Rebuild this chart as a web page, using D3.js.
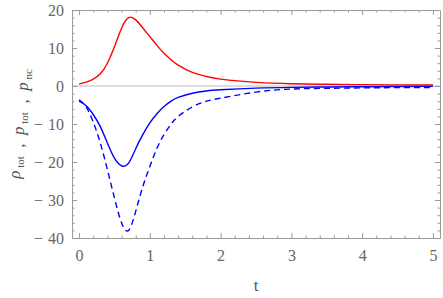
<!DOCTYPE html>
<html>
<head>
<meta charset="utf-8">
<script src="https://cdn.jsdelivr.net/npm/d3@7"></script>
<style>
  body { margin: 0; background: #fff; }
  .tick text { font-family: "Liberation Serif", "DejaVu Serif", serif; fill: #666; }
  .domain { stroke: #999; }
  .tick line { stroke: #999; }
</style>
</head>
<body>
<div id="chart"></div>
<script>
// Sample times and the three curves
const tValues = [0, 0.1, 0.2, 0.3, 0.4, 0.5, 0.6, 0.7, 0.8, 0.9, 1.0, 1.1, 1.2, 1.3, 1.4, 1.6, 1.8, 2.0, 2.5, 3.0, 3.5, 4.0, 4.5, 5.0];
const rhoTot = [0.5, 1.0, 1.8, 3.2, 6.0, 10.3, 15.2, 18.0, 17.4, 15.3, 13.0, 10.7, 8.6, 6.9, 5.5, 3.6, 2.5, 1.8, 0.95, 0.6, 0.45, 0.35, 0.3, 0.26];
const pTot = [-4.0, -5.2, -7.5, -10.7, -15.0, -19.0, -21.0, -20.3, -16.5, -12.8, -9.7, -7.3, -5.4, -4.0, -3.0, -1.9, -1.3, -1.0, -0.55, -0.35, -0.25, -0.18, -0.14, -0.1];
const pNc = [-3.6, -5.5, -9.5, -15.0, -22.0, -29.5, -36.0, -38.0, -33.0, -26.5, -21.2, -16.4, -12.8, -10.0, -8.0, -5.5, -4.0, -3.2, -1.6, -0.8, -0.6, -0.5, -0.42, -0.38];

const xMajor = [0, 1, 2, 3, 4, 5];
const yMajor = [-40, -30, -20, -10, 0, 10, 20];

const width = 443, height = 298;
const svg = d3.select('#chart').append('svg')
    .attr('width', width)
    .attr('height', height);

const x = d3.scaleLinear().domain([-0.1, 5.1]).range([72, 440]);
const y = d3.scaleLinear().domain([-40, 20]).range([238, 10]);

const xMinor = d3.range(0, 5.01, 0.2).filter(v => Math.abs(v - Math.round(v)) > 1e-6);
const yMinor = d3.range(-40, 20.01, 2).filter(v => v % 10 !== 0);

// zero line
svg.append('line')
    .attr('x1', x.range()[0]).attr('x2', x.range()[1])
    .attr('y1', y(0)).attr('y2', y(0))
    .attr('stroke', '#bbb').attr('stroke-width', 1);

// frame axes with inward ticks
function addAxis(axisFn, scale, pos, major, minor, labels, side) {
    const maj = svg.append('g')
        .attr('transform', pos)
        .call(axisFn(scale).tickValues(major).tickSizeInner(-5).tickSizeOuter(0)
            .tickPadding(side === 'left' ? 8 : 12)
            .tickFormat(d => Math.abs(d)));
    if (!labels) {
        maj.selectAll('text').remove();
    } else {
        maj.selectAll('text').style('font-size', '16px')
            .each(function(d) {
                if (d < 0) {
                    const t = d3.select(this);
                    t.text('');
                    t.append('tspan').text('\u2212');
                    t.append('tspan').attr('dx', 5).text(Math.abs(d));
                }
            });
    }
    const mn = svg.append('g')
        .attr('transform', pos)
        .call(axisFn(scale).tickValues(minor).tickSizeInner(-2.5).tickSizeOuter(0));
    mn.select('.domain').remove();
    mn.selectAll('text').remove();
}

addAxis(d3.axisBottom, x, `translate(0,${y.range()[0]})`, xMajor, xMinor, true, 'bottom');
addAxis(d3.axisTop, x, `translate(0,${y.range()[1]})`, xMajor, xMinor, false, 'top');
addAxis(d3.axisLeft, y, `translate(${x.range()[0]},0)`, yMajor, yMinor, true, 'left');
addAxis(d3.axisRight, y, `translate(${x.range()[1]},0)`, yMajor, yMinor, false, 'right');

// curves
const line = values => d3.line()
    .x((d, i) => x(tValues[i]))
    .y(d => y(d))
    .curve(d3.curveNatural)(values);

svg.append('path').attr('d', line(rhoTot))
    .attr('fill', 'none').attr('stroke', '#f00').attr('stroke-width', 1.4);
svg.append('path').attr('d', line(pTot))
    .attr('fill', 'none').attr('stroke', '#00f').attr('stroke-width', 1.4);
svg.append('path').attr('d', line(pNc))
    .attr('fill', 'none').attr('stroke', '#00f').attr('stroke-width', 1.4)
    .attr('stroke-dasharray', '6,4');

// axis titles
svg.append('text')
    .attr('x', 256).attr('y', 291)
    .attr('text-anchor', 'middle')
    .style('font-family', '"Liberation Serif", serif')
    .style('font-size', '17px').attr('fill', '#555')
    .text('t');

const yt = svg.append('text')
    .attr('transform', 'translate(20,124) rotate(-90)')
    .attr('text-anchor', 'middle')
    .style('font-family', '"Liberation Serif", serif')
    .style('white-space', 'pre')
    .style('font-size', '17px').attr('fill', '#555');
const parts = [['\u03C1', 'tot'], ['p', 'tot'], ['p', 'nc']];
parts.forEach(([base, sub], i) => {
    if (i > 0) yt.append('tspan').text('  ,  ');
    yt.append('tspan').style('font-style', 'italic').text(base);
    yt.append('tspan').attr('dy', 4).style('font-size', '11px').text(' ' + sub);
    yt.append('tspan').attr('dy', -4).text('');
});
</script>
</body>
</html>
